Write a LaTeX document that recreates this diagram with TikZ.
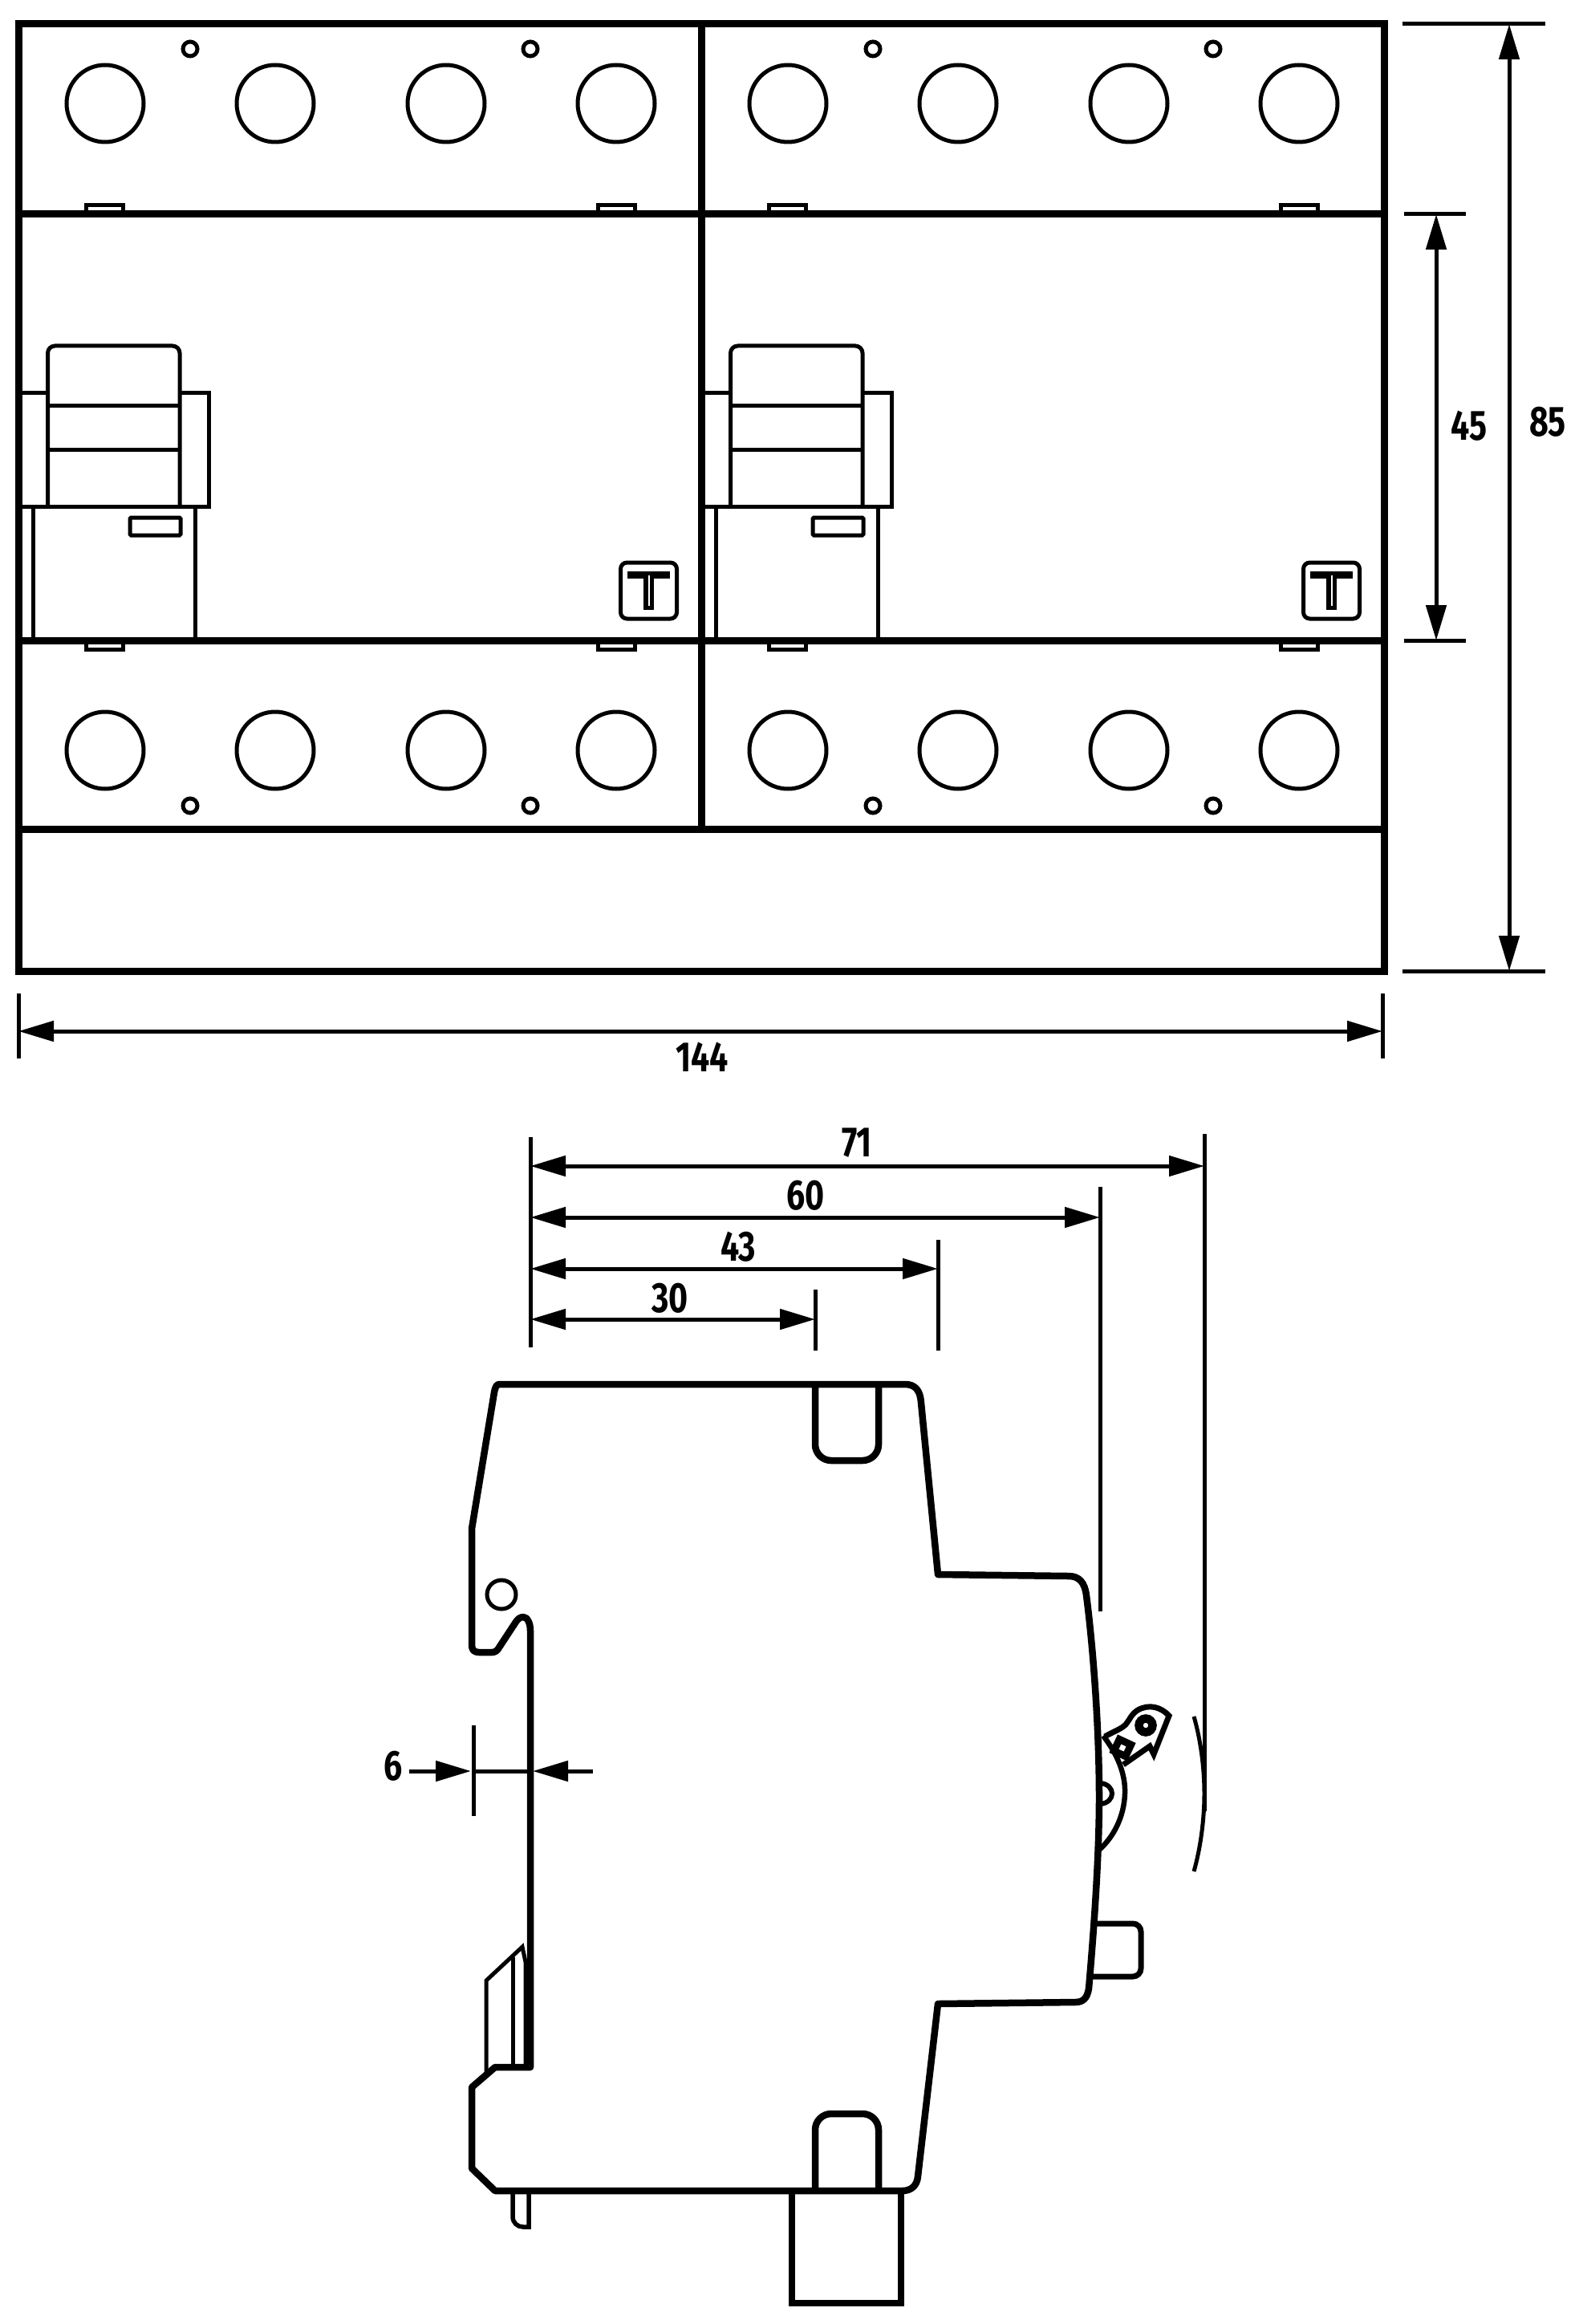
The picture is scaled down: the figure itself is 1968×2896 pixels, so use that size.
\documentclass[tikz,border=0pt]{standalone}
\usepackage{fontspec}
\usetikzlibrary{arrows.meta}
\newfontfamily\dimfont[FakeStretch=0.78]{Fira Sans}

\tikzset{
  frameline/.style={line width=0.9mm},
  partline/.style={line width=0.5mm},
  bodyline/.style={line width=0.85mm, line join=round},
  dimline/.style={line width=0.5mm},
  dimarrow/.style={line width=0.5mm, {Triangle[length=4.4mm,width=2.5mm]}-{Triangle[length=4.4mm,width=2.5mm]}},
  dimhead/.style={line width=0.5mm, -{Triangle[length=4.4mm,width=2.5mm]}},
  dimtext/.style={font=\dimfont\bfseries\fontsize{15}{15}\selectfont, inner sep=0pt}
}

\begin{document}
\begin{tikzpicture}[x=0.1mm,y=-0.1mm]
\useasboundingbox (0,0) rectangle (1968,2896);

% Front view: frame
\draw[frameline] (23.5,30) rectangle (1725.5,1210);
\draw[frameline] (874,30) -- (874,1033);
\draw[frameline] (23.5,267) -- (1725.5,267);
\draw[frameline] (23.5,798) -- (1725.5,798);
\draw[frameline] (23.5,1033) -- (1725.5,1033);

% Front view: the two halves
\foreach \dx in {0,85.1} {
\begin{scope}[xshift=\dx mm]
  % Terminals
  \foreach \tx in {131,343,556,768} {
    \draw[partline] (\tx,129) circle (48);
    \draw[partline] (\tx,935) circle (48);
  }
  \foreach \tx in {237,661} {
    \draw[partline] (\tx,61) circle (9);
    \draw[partline] (\tx,1004) circle (9);
  }
  % Tabs
  \foreach \tx in {107,745} {
    \draw[partline] (\tx,265) -- (\tx,255.5) -- (\tx+46,255.5) -- (\tx+46,265);
    \draw[partline] (\tx,800) -- (\tx,809.5) -- (\tx+46,809.5) -- (\tx+46,800);
  }
  % Switch
  \draw[partline] (23.5,489) -- (59.5,489);
  \draw[partline] (224,489) -- (260,489) -- (260,631) -- (23.5,631);
  \draw[partline, rounded corners=0.9mm] (59.5,631) -- (59.5,431) -- (224,431) -- (224,631);
  \draw[partline] (59.5,505) -- (224,505);
  \draw[partline] (59.5,560) -- (224,560);
  \draw[partline] (41,631) -- (41,798);
  \draw[partline] (243,631) -- (243,798);
  \draw[partline, rounded corners=0.15mm] (162,645) rectangle (225,667);
  % T mark
  \draw[partline, rounded corners=0.8mm] (773.5,701) rectangle (843.5,771);
  \fill (782,712) rectangle (835,721);
  \fill (802,712) rectangle (815,760);
  \fill[white] (807.5,717) rectangle (809.5,755);
\end{scope}
}

% Front view: dimensions
\draw[dimline] (1748,30) -- (1926,30);
\draw[dimline] (1748,1210) -- (1926,1210);
\draw[dimline] (1750,267) -- (1827,267);
\draw[dimline] (1750,798) -- (1827,798);
\draw[dimarrow] (1881,30) -- (1881,1210);
\draw[dimarrow] (1790,267) -- (1790,798);
\node[dimtext] (dimheight) at (1929,526) {85};
\node[dimtext] (dimmiddle) at (1831,531) {45};
\draw[dimline] (23,1238) -- (23,1319);
\draw[dimline] (1723,1238) -- (1723,1319);
\draw[dimarrow] (23,1285) -- (1723,1285);
\node[dimtext] (dimwidth) at (875,1317) {144};

% Side view: dimensions
\draw[dimline] (661,1417) -- (661,1679);
\draw[dimline] (1501,1413) -- (1501,2257);
\draw[dimline] (1371,1479) -- (1371,2008);
\draw[dimline] (1169,1545) -- (1169,1683);
\draw[dimline] (1016,1607) -- (1016,1683);
\draw[dimarrow] (661,1453) -- (1501,1453);
\draw[dimarrow] (661,1517) -- (1371,1517);
\draw[dimarrow] (661,1581) -- (1169,1581);
\draw[dimarrow] (661,1644) -- (1016,1644);
\node[dimtext] (dimdepthd) at (1068,1424) {71};
\node[dimtext] (dimdepthc) at (1004,1490) {60};
\node[dimtext] (dimdepthb) at (920,1554) {43};
\node[dimtext] (dimdeptha) at (835,1618) {30};

% Rail depth
\draw[dimline] (590,2150) -- (590,2263);
\draw[dimline] (590,2207) -- (661,2207);
\draw[dimhead] (510,2207) -- (587,2207);
\draw[dimhead] (739,2207) -- (664,2207);
\node[dimtext] (dimrail) at (490,2201) {6};

% Side view: body
\draw[bodyline] (622,1725) -- (1128,1725)
  .. controls (1141,1725) and (1147,1733) .. (1148,1748) -- (1169,1962) -- (1332,1964)
  .. controls (1345,1964) and (1352,1972) .. (1354,1988)
  .. controls (1362,2050) and (1370,2150) .. (1370,2240)
  .. controls (1370,2320) and (1362,2420) .. (1357,2478)
  .. controls (1355,2490) and (1350,2495) .. (1340,2495) -- (1169,2497) -- (1144,2712)
  .. controls (1143,2724) and (1135,2730) .. (1125,2730) -- (617,2730) -- (588,2702) -- (588,2601)
  -- (617,2576) -- (661,2576) -- (661,2032)
  .. controls (661,2022) and (657,2015) .. (652,2015)
  .. controls (648,2015) and (645,2018) .. (643,2021) -- (622,2053)
  .. controls (620,2057) and (617,2059) .. (613,2059) -- (597,2059)
  .. controls (591,2059) and (588,2056) .. (588,2050) -- (588,1905) -- (616,1735)
  .. controls (617,1729) and (619,1725) .. (622,1725) -- cycle;

% Slots, foot and pin
\draw[bodyline, rounded corners=2mm] (1016,1725) -- (1016,1820) -- (1095,1820) -- (1095,1725);
\draw[bodyline, rounded corners=2mm] (1016,2730) -- (1016,2634) -- (1095,2634) -- (1095,2730);
\draw[bodyline, line join=miter] (987,2730) -- (987,2870) -- (1123,2870) -- (1123,2730);
\draw[line width=0.55mm] (639,2730) -- (639,2762) .. controls (639,2770) and (645,2775) .. (652,2775) -- (659,2775) -- (659,2730);
\draw[partline] (625,1987) circle (18);

% Latch
\draw[partline, line join=miter] (606,2583) -- (606,2468) -- (651,2426) -- (655,2445) -- (655,2576);
\draw[partline] (639,2439) -- (639,2573);

% Button
\draw[line width=0.7mm, rounded corners=1mm] (1365,2397) -- (1422,2397) -- (1422,2463) -- (1360,2463);

% Handle
\draw[line width=0.65mm] (1375,2163) .. controls (1392,2185) and (1403,2210) .. (1402,2235)
  .. controls (1401,2265) and (1387,2290) .. (1370,2305);
\draw[line width=0.6mm] (1372,2222) .. controls (1381,2223) and (1386,2229) .. (1386,2235)
  .. controls (1386,2241) and (1381,2247) .. (1372,2248);
\draw[line width=0.7mm, line join=miter] (1377,2164) .. controls (1385,2159) and (1397,2155) .. (1403,2149)
  .. controls (1408,2143) and (1410,2136) .. (1418,2131)
  .. controls (1432,2123) and (1447,2127) .. (1457,2138) -- (1438,2186) -- (1433,2176) -- (1400,2199);
\draw[line width=1.05mm] (1428,2150) circle (8.5);
\draw[line width=0.9mm, rotate around={-25:(1399,2178)}] (1391,2170) rectangle (1407,2186);
\draw[partline] (1488,2139) .. controls (1497,2170) and (1501,2205) .. (1501,2235)
  .. controls (1501,2265) and (1497,2300) .. (1488,2332);

\end{tikzpicture}
\end{document}
